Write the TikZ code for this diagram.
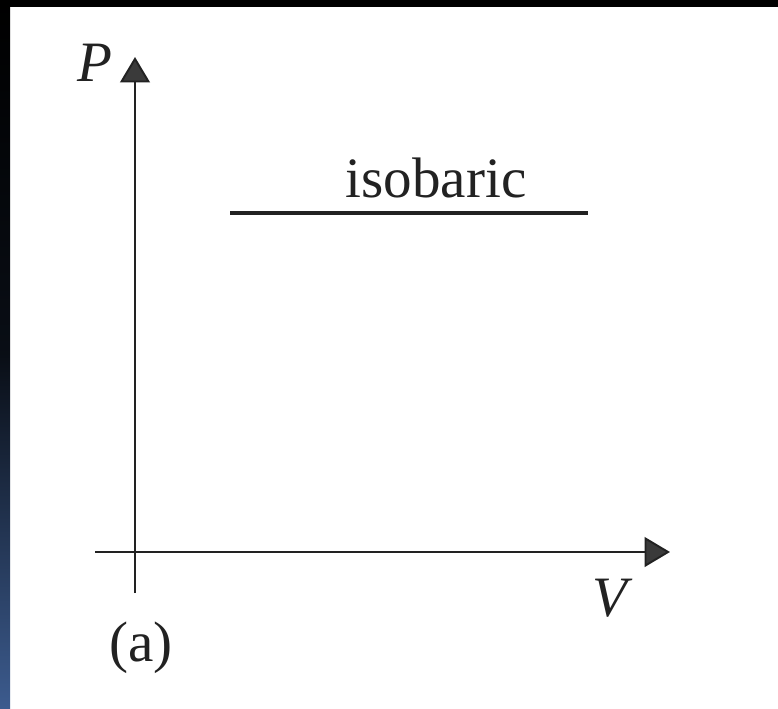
\documentclass[tikz,border=0pt]{standalone}
\usepackage{fontspec}
\setmainfont{Liberation Serif}
\usetikzlibrary{arrows.meta, positioning}

\definecolor{inkgray}{HTML}{222222}
\definecolor{tipgray}{HTML}{3A3A3A}
\definecolor{edgeblue}{HTML}{3C5B8E}

\tikzset{
	axis/.style={draw=inkgray, line width=1.1pt, -{Triangle[length=14.5pt, width=17pt, fill=tipgray]}},
	curve/.style={draw=inkgray, line width=2.2pt},
	lbl/.style={inner sep=0pt, text=inkgray, font=\fontsize{32.5}{36}\selectfont}
}

\begin{document}
\begin{tikzpicture}[x=0.02cm, y=-0.02cm]
		\useasboundingbox (0, 0) rectangle (778, 708);
		\fill[white] (0, 0) rectangle (778, 708);
		\shade[top color=black, bottom color=edgeblue, middle color=black!85!edgeblue] (0, 0) rectangle (10, 708);
		\fill[black] (0, 0) rectangle (778, 7);
		\coordinate (origin_v) at (135, 593);
		\coordinate (top_p) at (135, 57);
		\coordinate (origin_h) at (95, 552);
		\coordinate (end_v) at (670, 552);
		\coordinate (iso_start) at (230, 213);
		\coordinate (iso_end) at (588, 213);
		\draw[axis] (origin_v) -- (top_p);
		\draw[axis] (origin_h) -- (end_v);
		\draw[curve] (iso_start) -- (iso_end);
		\node[lbl] (p) at (95, 63) {\textit{P}};
		\node[lbl] (v) at (613, 598) {\textit{V}};
		\node[lbl] (a) at (141, 648) {(a)};
		\node[lbl, anchor=base] (iso) at (436, 197) {isobaric};
	\end{tikzpicture}
\end{document}
